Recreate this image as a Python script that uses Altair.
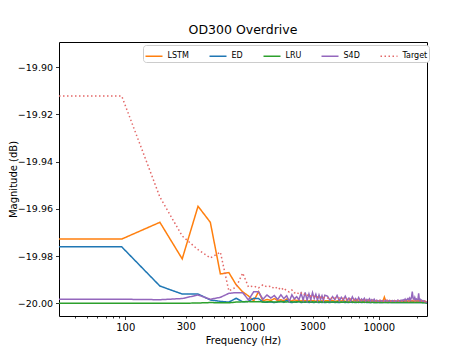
import altair as alt
import pandas as pd

# ---------------- data ----------------
# FFT bin grid: bin width 93.75 Hz; the DC bin is drawn at the left axis edge (30 Hz)
DC_HZ = 30.0
BIN_HZ = 93.75
bins_low = list(range(1, 41))          # every bin up to 3750 Hz
bins_mid = list(range(42, 101, 2))     # every 2nd bin up to 9375 Hz
bins_high = list(range(103, 257, 3))   # every 3rd bin up to 24000 Hz
freq_hz = [DC_HZ] + [BIN_HZ * k for k in bins_low + bins_mid + bins_high]

series_names = ["LSTM", "ED", "LRU", "S4D", "Target"]
series_colors = ["#ff7f0e", "#1f77b4", "#2ca02c", "#9467bd", "#e36868"]

# magnitudes above -20 dB, in milli-dB (value = -20 + m/1000)
lstm_low = [27.2, 27.2, 34.3, 18.8, 41.1, 34.3, 12.4, 13.0, 7.8, 4.8, 3.1,
            1.0, 4.9, 1.0, 1.6, 1.2, 2.0, 1.1, 1.5, 1.0, 1.8,
            1.2, 1.0, 1.5, 1.1, 1.3, 0.9, 1.4, 1.0, 1.2, 0.9,
            1.3, 1.0, 1.1, 0.8, 1.2, 1.0, 0.9, 1.1, 0.8, 1.0]
lstm_mid = [1.1, 0.9, 1.2, 0.8, 1.0, 1.1, 0.9, 1.3, 0.8, 1.0,
            0.9, 1.1, 0.8, 1.0, 1.2, 0.9, 1.0, 0.8, 1.1, 0.9,
            1.0, 0.8, 1.0, 0.9, 1.1, 0.8, 1.0, 0.9, 1.0, 0.8]
lstm_high = [0.9, 1.0, 0.8, 1.0, 0.9, 2.6, 0.9, 1.0, 0.8, 1.0,
             0.9, 1.1, 0.8, 1.0, 0.9, 0.8, 1.0, 0.9, 1.1, 0.8,
             1.0, 0.9, 0.8, 1.0, 0.9, 1.1, 0.8, 0.9, 1.0, 0.8,
             1.0, 0.9, 0.8, 1.0, 0.9, 0.8, 1.0, 0.9, 1.1, 0.8,
             0.9, 1.0, 0.8, 0.9, 1.0, 0.8, 0.9, 0.7, 0.8, 0.6,
             0.5, 0.4]

ed_low = [23.9, 23.9, 7.3, 3.9, 3.9, 1.4, 0.8, 0.5, 2.1, 0.6, 0.8,
          2.1, 2.0, 0.5, 0.4, 0.6, 0.3, 0.5, 0.8, 0.4, 1.2,
          0.5, 0.3, 0.6, 0.4, 0.8, 0.3, 0.5, 0.4, 0.6, 0.3,
          0.5, 0.4, 0.3, 0.5, 0.4, 0.3, 0.5, 0.3, 0.4, 0.3]
ed_mid = [0.4, 0.3, 0.5, 0.3, 0.4, 0.3, 0.5, 0.4, 0.3, 0.4,
          0.3, 0.5, 0.3, 0.4, 0.3, 0.4, 0.3, 0.5, 0.3, 0.4,
          0.3, 0.4, 0.3, 0.3, 0.4, 0.3, 0.4, 0.3, 0.3, 0.4]
ed_high = [0.3, 0.4, 0.3, 0.3, 0.4, 0.3, 0.4, 0.3, 0.3, 0.4,
           0.3, 0.3, 0.4, 0.3, 0.3, 0.4, 0.3, 0.3, 0.4, 0.3,
           0.3, 0.4, 0.3, 0.3, 0.4, 0.3, 0.3, 0.4, 0.3, 0.3,
           0.4, 0.3, 0.3, 0.4, 0.3, 0.3, 0.4, 0.3, 0.3, 0.4,
           0.3, 0.3, 0.4, 0.3, 0.3, 0.3, 0.4, 0.3, 0.3, 0.2,
           0.2, 0.2]

lru_low = [0.0, 0.0, 0.0, 0.0, 0.1, 0.3, 0.2, 0.2, 0.5, 0.6, 0.7,
           0.6, 0.7, 0.5, 0.6, 0.7, 0.5, 0.6, 0.7, 0.6, 0.5,
           0.7, 0.6, 0.5, 0.6, 0.7, 0.5, 0.6, 0.5, 0.6, 0.7,
           0.5, 0.6, 0.5, 0.6, 0.5, 0.6, 0.5, 0.6, 0.5, 0.6]
lru_mid = [0.5, 0.6, 0.5, 0.5, 0.6, 0.5, 0.4, 0.5, 0.6, 0.5,
           0.4, 0.5, 0.5, 0.4, 0.5, 0.4, 0.5, 0.4, 0.4, 0.5,
           0.4, 0.4, 0.5, 0.4, 0.4, 0.3, 0.4, 0.4, 0.3, 0.4]
lru_high = [0.3, 0.4, 0.3, 0.3, 0.3, 0.4, 0.3, 0.3, 0.3, 0.3,
            0.4, 0.3, 0.3, 0.3, 0.3, 0.3, 0.4, 0.3, 0.3, 0.3,
            0.3, 0.3, 0.3, 0.4, 0.3, 0.3, 0.3, 0.3, 0.3, 0.3,
            0.3, 0.3, 0.3, 0.3, 0.3, 0.3, 0.3, 0.3, 0.3, 0.3,
            0.3, 0.3, 0.3, 0.3, 0.2, 0.2, 0.2, 0.2, 0.2, 0.2,
            0.1, 0.1]

s4d_low = [1.7, 1.7, 1.5, 2.0, 3.5, 1.7, 2.5, 4.2, 4.5, 4.5, 1.4,
           4.9, 4.9, 1.7, 3.5, 2.2, 3.3, 1.6, 3.6, 2.0, 3.2,
           0.8, 3.6, 1.8, 2.8, 1.5, 4.2, 1.4, 4.6, 1.2, 4.0,
           1.5, 4.5, 2.0, 3.8, 1.3, 3.5, 1.6, 3.2, 1.2, 3.4]
s4d_mid = [3.0, 1.2, 2.8, 1.5, 3.3, 1.1, 2.5, 1.4, 3.0, 1.2,
           2.2, 1.0, 2.7, 1.3, 2.0, 1.1, 2.4, 1.0, 1.8, 1.2,
           2.1, 0.9, 1.6, 1.1, 1.9, 0.9, 1.5, 1.0, 1.7, 0.9]
s4d_high = [1.3, 0.8, 1.2, 0.9, 1.1, 0.8, 1.3, 0.9, 1.0, 1.2,
            0.8, 1.1, 0.9, 1.2, 0.8, 1.0, 1.4, 0.9, 1.1, 1.3,
            1.0, 1.5, 1.2, 1.8, 1.1, 1.6, 2.0, 1.3, 2.2, 1.5,
            2.4, 4.9, 2.0, 1.6, 2.5, 1.3, 1.8, 1.5, 1.4, 4.2,
            1.2, 1.6, 1.0, 1.3, 0.9, 1.1, 0.8, 1.0, 0.7, 0.6,
            0.4, 0.3]

target_low = [87.8, 87.8, 45.0, 28.5, 22.7, 19.2, 21.7, 5.2, 6.9, 12.8, 6.9,
              7.3, 6.5, 7.8, 6.9, 7.3, 6.1, 6.9, 5.6, 6.5, 5.2,
              4.8, 5.6, 4.4, 4.8, 3.9, 4.4, 3.5, 4.0, 3.3, 3.7,
              3.0, 3.4, 2.8, 3.1, 2.6, 3.0, 2.5, 2.8, 2.3, 2.6]
target_mid = [2.2, 2.5, 2.0, 2.3, 1.9, 2.2, 1.8, 2.1, 1.7, 2.0,
              1.6, 1.9, 1.7, 1.5, 1.8, 1.4, 1.7, 1.5, 1.3, 1.6,
              1.4, 1.2, 1.5, 1.3, 1.2, 1.4, 1.1, 1.3, 1.2, 1.0]
target_high = [1.2, 1.0, 1.3, 1.1, 0.9, 1.2, 1.0, 1.3, 0.9, 1.1,
               1.0, 1.2, 0.9, 1.1, 1.0, 0.8, 1.1, 0.9, 1.2, 1.0,
               0.9, 1.1, 0.8, 1.0, 1.2, 0.9, 1.0, 0.8, 1.1, 0.9,
               1.0, 1.2, 0.9, 1.1, 0.8, 1.0, 1.3, 0.9, 1.1, 1.0,
               0.8, 1.2, 0.9, 1.0, 0.8, 1.1, 0.9, 0.7, 0.8, 0.6,
               0.4, 0.3]

series_values = [
    lstm_low + lstm_mid + lstm_high,
    ed_low + ed_mid + ed_high,
    lru_low + lru_mid + lru_high,
    s4d_low + s4d_mid + s4d_high,
    target_low + target_mid + target_high,
]

x_tick_values = [40, 50, 60, 70, 80, 90, 100, 200, 300, 400, 500, 600, 700, 800, 900,
                 1000, 2000, 3000, 4000, 5000, 6000, 7000, 8000, 9000, 10000, 20000]
x_tick_labels = [100, 300, 1000, 3000, 10000]
y_tick_values = [-20.00, -19.98, -19.96, -19.94, -19.92, -19.90]

# ---------------- table ----------------
rows = []
for name, vals in zip(series_names, series_values):
    assert len(vals) == len(freq_hz), (name, len(vals), len(freq_hz))
    for f, m in zip(freq_hz, vals):
        rows.append({"freq": f, "mag": -20.0 + m / 1000.0, "series": name})
df = pd.DataFrame(rows)

FONT = "DejaVu Sans"
label_test = " || ".join(f"datum.value == {v}" for v in x_tick_labels)
major_test = "datum.value == 100 || datum.value == 1000 || datum.value == 10000"

x_enc = alt.X(
    "freq:Q",
    scale=alt.Scale(type="log", domain=[30, 24000], nice=False),
    axis=alt.Axis(
        values=x_tick_values,
        labelExpr=f"({label_test}) ? format(datum.value, 'd') : ''",
        title="Frequency (Hz)",
        grid=False,
        domain=False,
        tickColor="black",
        tickWidth=0.8,
        tickSize=alt.condition(major_test, alt.value(3.5), alt.value(2)),
        labelPadding=3,
        labelOverlap=False,
        labelFlush=False,
        labelFont=FONT,
        labelFontSize=10,
        labelColor="black",
        titleFont=FONT,
        titleFontSize=10,
        titleFontWeight="normal",
        titleColor="black",
        titlePadding=3,
    ),
)
y_enc = alt.Y(
    "mag:Q",
    scale=alt.Scale(domain=[-20.0054, -19.8893], nice=False, zero=False),
    axis=alt.Axis(
        values=y_tick_values,
        format=".2f",
        title="Magnitude (dB)",
        grid=False,
        domain=False,
        tickColor="black",
        tickWidth=0.8,
        tickSize=3.5,
        labelPadding=3,
        labelFont=FONT,
        labelFontSize=9.5,
        labelColor="black",
        titleFont=FONT,
        titleFontSize=10,
        titleFontWeight="normal",
        titleColor="black",
        titlePadding=-1.5,
    ),
)

legend_opts = dict(
    title=None,
    orient="none",
    legendX=84,
    legendY=3,
    direction="horizontal",
    gridAlign="each",
    symbolType="stroke",
    symbolSize=289,
    symbolStrokeWidth=1.5,
    labelFont=FONT,
    labelFontSize=8,
    labelColor="black",
    labelOffset=4,
    columnPadding=17,
    padding=1.5,
    fillColor="white",
    strokeColor="#cccccc",
    cornerRadius=3,
)
color_enc = alt.Color(
    "series:N",
    scale=alt.Scale(domain=series_names, range=series_colors),
    legend=alt.Legend(**legend_opts),
)
dash_enc = alt.StrokeDash(
    "series:N",
    scale=alt.Scale(domain=series_names,
                    range=[[1, 0], [1, 0], [1, 0], [1, 0], [1.5, 2.5]]),
    legend=alt.Legend(**legend_opts),
)

base = alt.Chart(df).mark_line(strokeWidth=1.5, clip=True).encode(
    x=x_enc, y=y_enc, color=color_enc, strokeDash=dash_enc
)
layers = [base.transform_filter(alt.datum.series == n) for n in series_names]

chart = alt.layer(*layers).properties(
    width=368,
    height=274,
    title=alt.TitleParams("OD300 Overdrive", font=FONT, fontSize=12.5,
                          fontWeight="normal", color="black", offset=6,
                          anchor="middle"),
    autosize=alt.AutoSizeParams(type="none"),
    padding={"left": 51, "top": 34, "right": 39, "bottom": 31},
).configure_view(stroke="black", strokeWidth=1)

chart.save("out.html", embed_options={"renderer": "svg", "actions": False})
